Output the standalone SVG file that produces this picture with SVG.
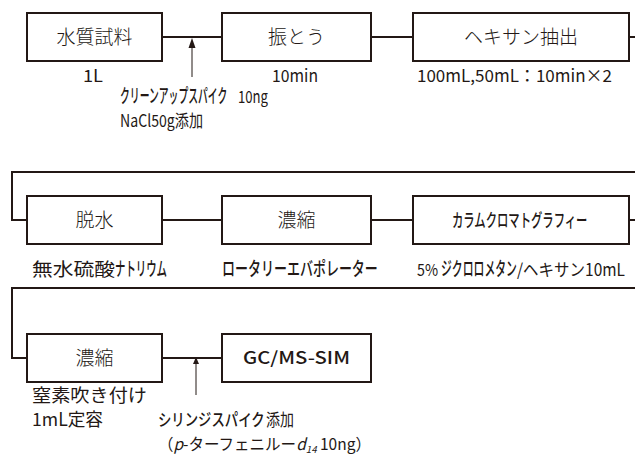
<svg xmlns="http://www.w3.org/2000/svg" width="635" height="455" viewBox="0 0 635 455">
<style>
.box{fill:#fff;stroke:#231815;stroke-width:2}
.ln{fill:none;stroke:#231815;stroke-width:2}
.ar{fill:none;stroke:#231815;stroke-width:1}
.bt{font-family:"Noto Sans CJK JP","Noto Sans",sans-serif;font-weight:300;font-size:19px;fill:#231815;text-anchor:middle}
.bb{font-family:"Noto Sans CJK JP","Noto Sans",sans-serif;font-weight:500;font-size:17px;fill:#231815}
.lb{font-family:"Noto Sans CJK JP","Noto Sans",sans-serif;font-weight:400;font-size:17px;fill:#231815}
.kk{font-family:"Noto Sans CJK JP","Noto Sans",sans-serif;font-weight:500;font-size:19px;fill:#231815}
</style>
<rect width="635" height="455" fill="#fff"/>
<g id="connectors">
<path class="ln" d="M162 37H222M371 37H413M629 37H635"/>
<path class="ln" d="M635 172H12V220H27M162 220H222M371 220H413M629 220H635"/>
<path class="ln" d="M635 288H12V358H27M162 358H222"/>
<path class="ar" d="M192 77V46"/>
<polygon points="192,38 188.5,48 195.5,48" fill="#231815"/>
<path class="ar" d="M196 395V363"/>
<polygon points="196,357 193,364 199,364" fill="#231815"/>
</g>
<g id="n1"><rect class="box" x="27" y="13" width="135" height="48"/><text class="bt" x="94.5" y="44">水質試料</text></g>
<g id="n2"><rect class="box" x="222" y="13" width="149" height="48"/><text class="bt" x="296.5" y="44">振とう</text></g>
<g id="n3"><rect class="box" x="413" y="13" width="216" height="48"/><text class="bt" x="521" y="44">ヘキサン抽出</text></g>
<g id="n4"><rect class="box" x="27" y="196" width="135" height="48"/><text class="bt" x="94.5" y="227">脱水</text></g>
<g id="n5"><rect class="box" x="222" y="196" width="149" height="48"/><text class="bt" x="296.5" y="227">濃縮</text></g>
<g id="n6"><rect class="box" x="413" y="196" width="216" height="48"/><text class="kk" style="font-size:18px" transform="translate(452,227) scale(0.63,1)">カラムクロマトグラフィー</text></g>
<g id="n7"><rect class="box" x="27" y="334" width="135" height="48"/><text class="bt" x="94.5" y="365">濃縮</text></g>
<g id="n8"><rect class="box" x="222" y="334" width="149" height="48"/><text class="bb" x="243" y="364" textLength="107" lengthAdjust="spacingAndGlyphs">GC/MS-SIM</text></g>
<g id="labels">
<text class="lb" x="83" y="82" textLength="20" lengthAdjust="spacingAndGlyphs">1L</text>
<text class="lb" x="272" y="82" textLength="46" lengthAdjust="spacingAndGlyphs">10min</text>
<text class="lb" x="417" y="82" textLength="195" lengthAdjust="spacingAndGlyphs">100mL,50mL：10min×2</text>
<text class="kk" transform="translate(120,103) scale(0.517,1)">クリーンアップスパイク</text>
<text class="lb" x="238" y="103" textLength="30" lengthAdjust="spacingAndGlyphs">10ng</text>
<text class="lb" x="120" y="127" textLength="83" lengthAdjust="spacingAndGlyphs">NaCl50g添加</text>
<text class="lb" x="32" y="276" style="font-size:18px" textLength="83" lengthAdjust="spacingAndGlyphs">無水硫酸</text>
<text class="kk" transform="translate(115,276) scale(0.547,1)">ナトリウム</text>
<text class="kk" transform="translate(222,276) scale(0.684,1)">ロータリーエバポレーター</text>
<text class="lb" x="417" y="276" style="font-size:16px" textLength="21" lengthAdjust="spacingAndGlyphs">5%</text>
<text class="kk" transform="translate(441,276) scale(0.571,1)">ジクロロメタン</text>
<text class="lb" x="517" y="276" textLength="108" lengthAdjust="spacingAndGlyphs">/ヘキサン10mL</text>
<text class="lb" x="32" y="402" style="font-size:18px" textLength="115" lengthAdjust="spacingAndGlyphs">窒素吹き付け</text>
<text class="lb" x="32" y="426" style="font-size:18px" textLength="71" lengthAdjust="spacingAndGlyphs">1mL定容</text>
<text class="kk" style="font-size:17px" transform="translate(158,426) scale(0.787,1)">シリンジスパイク</text>
<text class="lb" x="266" y="426" textLength="28" lengthAdjust="spacingAndGlyphs">添加</text>
<text class="lb" style="font-size:16px" transform="translate(158,450) scale(0.97,1)">（<tspan font-style="italic">p</tspan>-ターフェニルー<tspan font-style="italic">d</tspan><tspan font-style="italic" style="font-size:10px" dy="3">14</tspan><tspan dy="-3"> 10ng）</tspan></text>
</g>
</svg>
